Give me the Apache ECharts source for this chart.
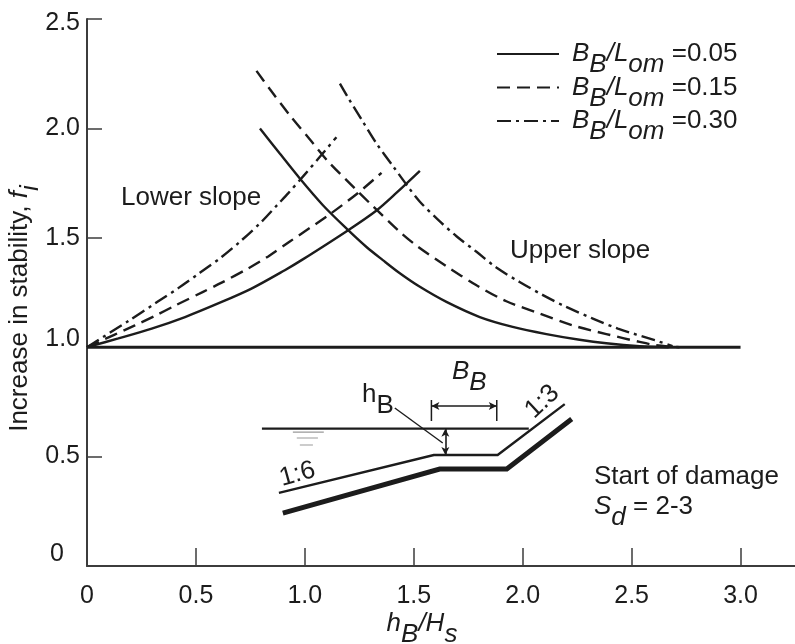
<!DOCTYPE html>
<html>
<head>
<meta charset="utf-8">
<script src="https://cdn.jsdelivr.net/npm/echarts@6/dist/echarts.min.js"></script>
<style>html,body{margin:0;padding:0;background:#fff}#c{width:795px;height:644px}</style>
</head>
<body>
<div id="c"></div>
<script>
// Chart data: [hB/Hs, fi]
const lower005 = [[0,1],[0.144,1.04],[0.297,1.085],[0.45,1.138],[0.602,1.2],[0.755,1.268],[0.908,1.352],[0.985,1.398],[1.199,1.535],[1.329,1.625],[1.42,1.705],[1.528,1.806]];
const lower015 = [[0,1],[0.22,1.10],[0.312,1.143],[0.404,1.19],[0.533,1.253],[0.618,1.295],[0.74,1.36],[0.832,1.415],[0.931,1.483],[1.115,1.608],[1.244,1.705],[1.352,1.797]];
const lower030 = [[0,1],[0.19,1.12],[0.32,1.205],[0.419,1.27],[0.518,1.34],[0.618,1.412],[0.71,1.489],[0.801,1.573],[0.878,1.655],[0.923,1.703],[1.0,1.79],[1.069,1.87],[1.145,1.96]];
const upper005 = [[0.794,2.0],[0.885,1.885],[0.977,1.771],[1.083,1.649],[1.199,1.535],[1.283,1.458],[1.358,1.398],[1.436,1.338],[1.528,1.276],[1.65,1.207],[1.803,1.138],[1.954,1.093],[2.109,1.06],[2.261,1.034],[2.384,1.018],[2.537,1.005],[2.67,1.0]];
const upper015 = [[0.778,2.263],[0.839,2.18],[0.931,2.06],[1.031,1.94],[1.106,1.85],[1.243,1.712],[1.312,1.645],[1.436,1.527],[1.518,1.46],[1.65,1.37],[1.788,1.283],[1.925,1.21],[2.078,1.154],[2.229,1.10],[2.384,1.06],[2.537,1.024],[2.613,1.009],[2.72,1.0]];
const upper030 = [[1.161,2.205],[1.199,2.14],[1.267,2.03],[1.329,1.931],[1.405,1.827],[1.474,1.733],[1.528,1.665],[1.611,1.583],[1.696,1.507],[1.788,1.436],[1.879,1.364],[1.986,1.298],[2.093,1.238],[2.2,1.184],[2.322,1.131],[2.437,1.085],[2.606,1.032],[2.688,1.005]];
const baseline = [[0,1],[3,1]];

// Inset schematic in axis units
const waterLine = [[0.803,0.6275],[2.028,0.6275]];
const waterMark1 = [[0.945,0.612],[1.087,0.612]];
const waterMark2 = [[0.963,0.585],[1.06,0.585]];
const waterMark3 = [[0.977,0.553],[1.037,0.553]];
const thinSlope = [[0.881,0.334],[1.592,0.507],[1.885,0.507],[2.193,0.740]];
const thickSlope = [[0.899,0.242],[1.619,0.443],[1.927,0.443],[2.225,0.672]];
const bracketLeft = [[1.581,0.759],[1.581,0.663]];
const bracketRight = [[1.881,0.759],[1.881,0.663]];
const bracketArrow = [[1.581,0.731],[1.881,0.731]];
const depthArrow = [[1.645,0.6275],[1.645,0.507]];
const leader = [[1.413,0.722],[1.633,0.562]];

// Axis ticks and labels
const xTicks = [0,0.5,1,1.5,2,2.5,3];
const xLabels = ['0','0.5','1.0','1.5','2.0','2.5','3.0'];
const yLabels = {0:'{zero|0}',0.5:'{n|0.5}',1:'{up|1.0}',1.5:'{n|1.5}',2:'{n|2.0}',2.5:'{down|2.5}'};
const legendNames = ['BB/Lom =0.05','BB/Lom =0.15','BB/Lom =0.30'];
const legendText = ['0.05','0.15','0.30'];

const FONT = '"Liberation Sans", Arial, sans-serif';
const INK = '#1c1c1c';
const SIZE = 25;
const TEXT = 26;
const dashed = [13,7];
const dashDot = [14,5,3,5];

const rich = {
  t:{fontFamily:FONT,fontSize:TEXT,color:INK,lineHeight:34,verticalAlign:'middle'},
  i:{fontFamily:FONT,fontSize:TEXT,fontStyle:'italic',color:INK,lineHeight:34,verticalAlign:'middle'},
  s:{fontFamily:FONT,fontSize:TEXT,fontStyle:'italic',color:INK,lineHeight:34,verticalAlign:'middle',padding:[22,0,0,0]},
  u:{fontFamily:FONT,fontSize:TEXT,color:INK,lineHeight:34,verticalAlign:'middle',padding:[22,0,0,0]}
};

function curve(name,data,type){
  return {type:'line',name,data,symbol:'none',smooth:0.3,silent:true,
    lineStyle:{color:INK,width:2.4,type:type}};
}
function ink(name,data,width,color){
  return {type:'line',name,data,symbol:'none',silent:true,
    lineStyle:{color:color||INK,width:width,cap:'butt',join:'miter'}};
}
function arrow(name,data){
  return {type:'line',name,data:[],symbol:'none',silent:true,
    markLine:{silent:true,symbol:['arrow','arrow'],symbolSize:[6,8],label:{show:false},
      lineStyle:{color:INK,width:1.6,type:'solid'},
      data:[[{coord:data[0]},{coord:data[1]}]]}};
}
function text(x,y,t,extra){
  return Object.assign({type:'text',x,y,silent:true,
    style:Object.assign({text:t,fill:INK,font:TEXT+'px '+FONT,verticalAlign:'middle',rich})},extra||{});
}

const chart = echarts.init(document.getElementById('c'),null,{renderer:'canvas'});
chart.setOption({
  animation:false,
  backgroundColor:'#fff',
  grid:{left:87,right:0,top:19,bottom:78,containLabel:false,outerBoundsMode:'none'},
  xAxis:{type:'value',min:0,max:3.25,interval:0.5,
    name:'{i|h}{s|B}{i|/H}{s|s}',nameLocation:'middle',nameGap:41,nameMoveOverlap:false,
    nameTextStyle:{rich,padding:[0,38,0,0]},
    axisLine:{onZero:false,lineStyle:{color:'#3c3c3c',width:2}},
    axisTick:{inside:true,length:18,customValues:xTicks,lineStyle:{color:'#3c3c3c',width:1.5}},
    axisLabel:{margin:18,customValues:xTicks,fontFamily:FONT,fontSize:SIZE,color:INK,
      formatter:v=>xLabels[xTicks.indexOf(v)]},
    splitLine:{show:false}},
  yAxis:{type:'value',min:0,max:2.5,interval:0.5,
    name:'{t|Increase in stability, }{i|f}{s|i}',nameLocation:'middle',nameGap:50,nameMoveOverlap:false,
    nameTextStyle:{rich,padding:[0,32,0,0]},
    axisLine:{onZero:false,lineStyle:{color:'#3c3c3c',width:2}},
    axisTick:{inside:true,length:15,lineStyle:{color:'#3c3c3c',width:1.5}},
    axisLabel:{margin:7,formatter:v=>yLabels[v],
      rich:{
        n:{fontFamily:FONT,fontSize:SIZE,color:INK},
        up:{fontFamily:FONT,fontSize:SIZE,color:INK,padding:[0,0,16,0]},
        down:{fontFamily:FONT,fontSize:SIZE,color:INK,padding:[8,0,0,0]},
        zero:{fontFamily:FONT,fontSize:SIZE,color:INK,padding:[0,16,24,0]}
      }},
    splitLine:{show:false}},
  legend:{show:true,orient:'vertical',left:491,top:25,itemWidth:62,itemHeight:14,itemGap:-14.5,
    selectedMode:false,data:legendNames,itemStyle:{opacity:0},
    formatter:n=>'{i|B}{s|B}{i|/L}{s|om}{t| ='+legendText[legendNames.indexOf(n)]+'}',
    textStyle:{rich,padding:[0,0,0,8]}},
  series:[
    curve(legendNames[0],lower005,'solid'),
    curve(legendNames[1],lower015,dashed),
    curve(legendNames[2],lower030,dashDot),
    curve(legendNames[0],upper005,'solid'),
    curve(legendNames[1],upper015,dashed),
    curve(legendNames[2],upper030,dashDot),
    ink('baseline',baseline,3),
    ink('water',waterLine,2.2),
    ink('mark1',waterMark1,1.2,'#999'),
    ink('mark2',waterMark2,1.2,'#999'),
    ink('mark3',waterMark3,1.2,'#999'),
    ink('thin slope',thinSlope,2.4),
    ink('thick slope',thickSlope,5),
    ink('bracket l',bracketLeft,1.5),
    ink('bracket r',bracketRight,1.5),
    ink('leader',leader,1.4),
    arrow('bracket',bracketArrow),
    arrow('depth',depthArrow)
  ],
  graphic:[
    text(121,198,'Lower slope'),
    text(510,251,'Upper slope'),
    text(594,477,'Start of damage'),
    text(594,507,'{i|S}{s|d}{t| = 2-3}'),
    text(362,395,'{t|h}{u|B}'),
    text(452,372,'{i|B}{s|B}'),
    text(280,479,'1:6',{rotation:0.27}),
    text(529,414,'1:3',{rotation:0.75})
  ]
});
</script>
</body>
</html>
